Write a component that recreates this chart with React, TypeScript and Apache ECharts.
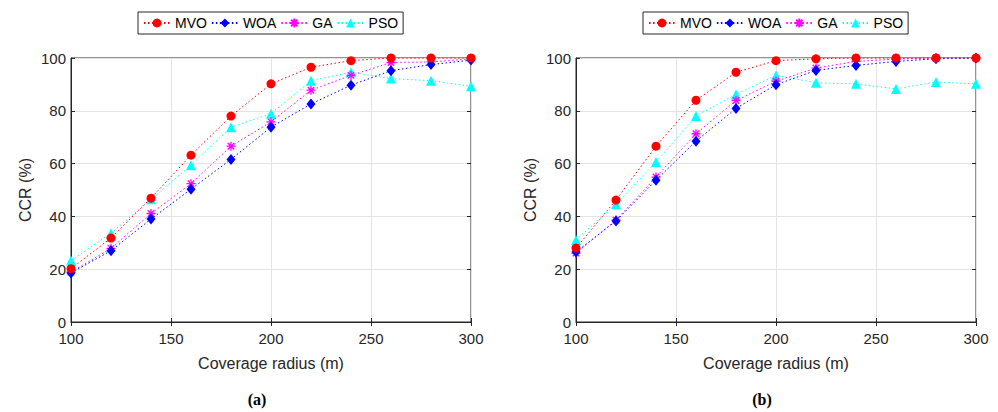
import React, { useEffect, useRef } from "react";
import * as echarts from "echarts";

const radius = [100, 120, 140, 160, 180, 200, 220, 240, 260, 280, 300];
const seriesNames = ["MVO", "WOA", "GA", "PSO"];
const xTicks = [100, 150, 200, 250, 300];
const yTicks = [0, 20, 40, 60, 80, 100];

// Panel (a)
const mvoA = [20.2, 31.8, 46.9, 63.2, 78.0, 90.2, 96.5, 99.0, 100, 100, 100];
const woaA = [18.6, 27.0, 39.0, 50.3, 61.6, 73.8, 82.6, 89.7, 95.2, 97.5, 99.2];
const gaA = [18.9, 27.9, 41.1, 52.4, 66.6, 75.8, 87.8, 93.4, 98.3, 98.5, 99.7];
const psoA = [23.3, 33.6, 46.5, 59.4, 73.8, 78.9, 91.4, 94.6, 92.2, 91.4, 89.3];

// Panel (b)
const mvoB = [28.0, 46.2, 66.6, 84.0, 94.6, 99.0, 99.7, 100, 100, 100, 100];
const woaB = [26.5, 38.3, 53.7, 68.5, 80.9, 89.9, 95.3, 97.2, 98.7, 99.7, 100];
const gaB = [26.1, 38.6, 54.9, 71.3, 83.9, 91.2, 96.2, 98.7, 99.6, 100, 100];
const psoB = [31.1, 44.6, 60.6, 78.0, 86.2, 93.4, 90.6, 90.2, 88.3, 90.9, 90.2];

const captions = ["(a)", "(b)"];

const colors = ["#ff0000", "#0000ff", "#ff00ff", "#00ffff"];
const asterisk =
  "path://M0,-5L0,5M-5,0L5,0M-3.6,-3.6L3.6,3.6M-3.6,3.6L3.6,-3.6";
const symbols = ["circle", "diamond", asterisk, "triangle"];
const symbolSizes: any[] = [9, [9, 11], 9, 10];

const FONT = "Liberation Sans, Arial, Helvetica, sans-serif";
const TXT = "#262626";

export default function App() {
  const ref = useRef<HTMLDivElement>(null);
  useEffect(() => {
    if (!ref.current) return;
    const chart = echarts.init(ref.current, undefined, { renderer: "svg" });
    const panels = [
      { left: 71, data: [mvoA, woaA, gaA, psoA], cap: 257, leg: 138 },
      { left: 576, data: [mvoB, woaB, gaB, psoB], cap: 762, leg: 643 },
    ];
    const W = 400;
    const grids: any[] = [];
    const xAxes: any[] = [];
    const yAxes: any[] = [];
    const series: any[] = [];
    const legends: any[] = [];
    const graphics: any[] = [];
    panels.forEach((p, i) => {
      grids.push({
        left: p.left,
        top: 58,
        width: W,
        height: 264,
        show: true,
        borderColor: TXT,
        borderWidth: 1,
        backgroundColor: "#fff",
      });
      xAxes.push({
        type: "value",
        gridIndex: i,
        min: 100,
        max: 300,
        interval: 50,
        name: "Coverage radius (m)",
        nameLocation: "middle",
        nameGap: 33,
        nameTextStyle: { fontFamily: FONT, fontSize: 16, color: TXT },
        axisLine: { show: true, lineStyle: { color: TXT, width: 1 } },
        axisTick: { show: true, inside: true, length: 4, lineStyle: { color: TXT } },
        axisLabel: {
          fontFamily: FONT,
          fontSize: 15,
          color: TXT,
          margin: 9,
          formatter: (v: number) => (xTicks.includes(v) ? String(v) : ""),
        },
        splitLine: { show: true, lineStyle: { color: "#e3e3e3", width: 1 } },
      });
      xAxes.push({
        type: "value",
        gridIndex: i,
        position: "top",
        min: 100,
        max: 300,
        interval: 50,
        axisLine: { show: false },
        axisTick: { show: true, inside: true, length: 4, lineStyle: { color: TXT } },
        axisLabel: { show: false },
        splitLine: { show: false },
      });
      yAxes.push({
        type: "value",
        gridIndex: i,
        min: 0,
        max: 100,
        interval: 20,
        name: "CCR (%)",
        nameLocation: "middle",
        nameGap: 38,
        nameRotate: 90,
        nameTextStyle: { fontFamily: FONT, fontSize: 16, color: TXT },
        axisLine: { show: true, lineStyle: { color: TXT, width: 1 } },
        axisTick: { show: true, inside: true, length: 4, lineStyle: { color: TXT } },
        axisLabel: {
          fontFamily: FONT,
          fontSize: 15,
          color: TXT,
          margin: 5,
          formatter: (v: number) => (yTicks.includes(v) ? String(v) : ""),
        },
        splitLine: { show: true, lineStyle: { color: "#e3e3e3", width: 1 } },
      });
      yAxes.push({
        type: "value",
        gridIndex: i,
        position: "right",
        min: 0,
        max: 100,
        interval: 20,
        axisLine: { show: false },
        axisTick: { show: true, inside: true, length: 4, lineStyle: { color: TXT } },
        axisLabel: { show: false },
        splitLine: { show: false },
      });
      p.data.forEach((vals, k) => {
        const isAst = k === 2;
        series.push({
          type: "line",
          name: seriesNames[k],
          xAxisIndex: i * 2,
          yAxisIndex: i * 2,
          data: radius.map((r, j) => [r, vals[j]]),
          symbol: symbols[k],
          symbolSize: symbolSizes[k],
          showSymbol: true,
          lineStyle: { color: colors[k], width: 1, type: [1.5, 2.5] },
          itemStyle: isAst
            ? { color: "none", borderColor: colors[k], borderWidth: 1.3 }
            : { color: colors[k], borderColor: colors[k], borderWidth: 0 },
          z: 10 - k,
        });
      });
      legends.push({
        show: true,
        data: seriesNames,
        left: p.leg,
        top: 12,
        orient: "horizontal",
        itemWidth: 26,
        itemHeight: 11,
        itemGap: 4,
        padding: [4, 5, 4, 5],
        borderColor: TXT,
        borderWidth: 1,
        backgroundColor: "#fff",
        textStyle: { fontFamily: FONT, fontSize: 14, color: "#000" },
        selectedMode: false,
      });
      graphics.push({
        type: "text",
        x: p.cap,
        y: 399,
        style: {
          text: captions[i],
          fontFamily: "Liberation Serif, DejaVu Serif, serif",
          fontSize: 16,
          fontWeight: "bold",
          fill: "#000",
          align: "center",
          verticalAlign: "middle",
        },
      });
    });
    chart.setOption({
      animation: false,
      backgroundColor: "#fff",
      grid: grids,
      xAxis: xAxes,
      yAxis: yAxes,
      series,
      legend: legends,
      graphic: graphics,
    });
    return () => chart.dispose();
  }, []);
  return (
    <div
      ref={ref}
      style={{ position: "fixed", left: 0, top: 0, width: 998, height: 412 }}
    />
  );
}
